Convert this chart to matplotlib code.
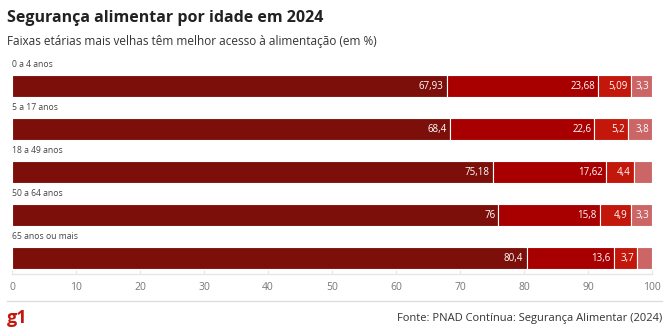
import numpy as np
import matplotlib
matplotlib.use('Agg')
import matplotlib.pyplot as plt

categories = ['0 a 4 anos', '5 a 17 anos', '18 a 49 anos', '50 a 64 anos', '65 anos ou mais']
seg1 = [67.93, 68.4, 75.18, 76, 80.4]
seg2 = [23.68, 22.6, 17.62, 15.8, 13.6]
seg3 = [5.09, 5.2, 4.4, 4.9, 3.7]
seg4 = [3.3, 3.8, 2.8, 3.3, 2.3]
seg4_labels = ['3,3', '3,8', '', '3,3', '']
ticks = [0, 10, 20, 30, 40, 50, 60, 70, 80, 90, 100]

colors = ['#7d0f0a', '#a80000', '#c4170c', '#cc6666']
W, H = 669, 336

plt.rcParams['font.family'] = ['Open Sans', 'DejaVu Sans']
fig = plt.figure(figsize=(W / 100, H / 100), dpi=100)

# axes placed in pixel terms: x 12..652, y 60..274 (top origin)
ax = fig.add_axes([12 / W, (H - 274) / H, 640 / W, 214 / H])
ax.set_xlim(0, 100)
ax.set_ylim(4.372, -0.605)

y = np.arange(len(categories))
left = np.zeros(len(categories))
for vals, c in zip([seg1, seg2, seg3, seg4], colors):
    ax.barh(y, vals, left=left, height=0.51, color=c, edgecolor='white', linewidth=0.8)
    left += np.array(vals)

def fmt(v):
    return ('%g' % v).replace('.', ',')

left = np.zeros(len(categories))
for k, vals in enumerate([seg1, seg2, seg3, seg4]):
    for i, v in enumerate(vals):
        if k == 3:
            lab = seg4_labels[i]
        else:
            lab = fmt(v)
        if lab:
            ax.text(left[i] + v - 0.5, y[i], lab, ha='right', va='center',
                    color='white', fontsize=7)
    left += np.array(vals)

for i, cat in enumerate(categories):
    ax.text(0, y[i] - 0.39, cat, ha='left', va='bottom', fontsize=6.2,
            color='#444444')

for s in ['top', 'right', 'left']:
    ax.spines[s].set_visible(False)
ax.spines['bottom'].set_color('#e6e6e6')
ax.spines['bottom'].set_linewidth(1)
ax.set_yticks([])
ax.set_xticks(ticks)
ax.set_xticklabels([str(t) for t in ticks])
ax.tick_params(axis='x', direction='in', length=3, color='#e6e6e6',
               labelsize=7.5, labelcolor='#777777', pad=6)

fig.text(7 / W, 1 - 18 / H, 'Segurança alimentar por idade em 2024', fontsize=11.5,
         fontweight='bold', color='#222222', va='center', ha='left')
fig.text(7 / W, 1 - 41 / H, 'Faixas etárias mais velhas têm melhor acesso à alimentação (em %)',
         fontsize=8.5, color='#333333', va='center', ha='left')

fig.add_artist(plt.Line2D([7 / W, 662 / W], [1 - 301 / H, 1 - 301 / H],
                          color='#dddddd', linewidth=1, transform=fig.transFigure))
fig.text(7 / W, 1 - 318 / H, 'g1', fontsize=13, fontweight='bold', color='#c4170c',
         va='center', ha='left')
fig.text(662 / W, 1 - 318 / H, 'Fonte: PNAD Contínua: Segurança Alimentar (2024)',
         fontsize=8, color='#333333', va='center', ha='right')

fig.savefig('out.png', dpi=100)
